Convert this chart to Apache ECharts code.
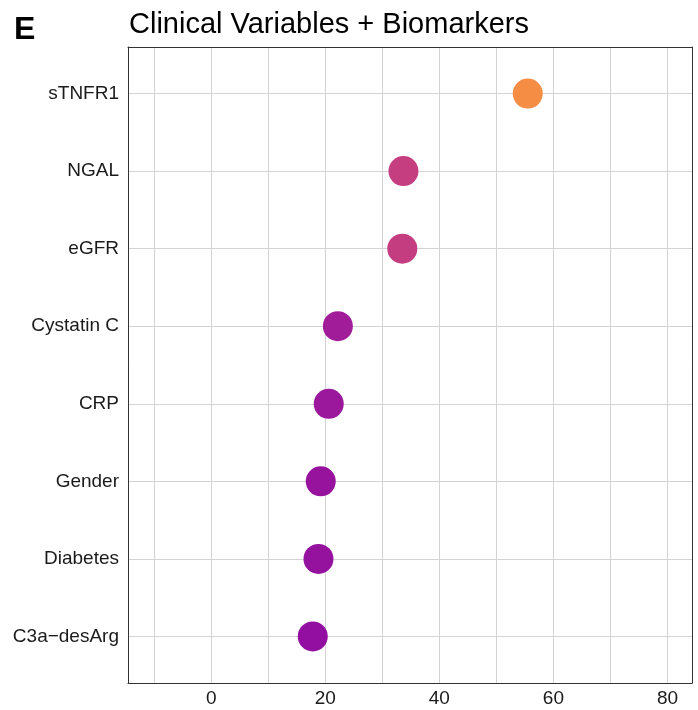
<!DOCTYPE html>
<html>
<head>
<meta charset="utf-8">
<script src="https://cdn.jsdelivr.net/npm/echarts@6/dist/echarts.min.js"></script>
<style>html,body{margin:0;padding:0;background:#fff;}#chart{width:698px;height:710px;}</style>
</head>
<body>
<div id="chart"></div>
<script>
const categories = ["sTNFR1", "NGAL", "eGFR", "Cystatin C", "CRP", "Gender", "Diabetes", "C3a\u2212desArg"];
const values = [55.5, 33.7, 33.5, 22.2, 20.6, 19.2, 18.8, 17.8];
const xTickLabels = [0, 20, 40, 60, 80];
const panelLabel = "E";
const titleText = "Clinical Variables + Biomarkers";

const FONT = "'Liberation Sans', Arial, Helvetica, sans-serif";
const X_MIN = -14.6, X_MAX = 84.3, Y_MIN = 0.4, Y_MAX = 8.6;
const frame = {show: true, onZero: false, lineStyle: {color: '#333', width: 1}};
const chart = echarts.init(document.getElementById('chart'), null, {renderer: 'canvas'});
chart.setOption({
  backgroundColor: '#fff',
  animation: false,
  title: [
    {text: panelLabel, left: 9, top: 9, textStyle: {fontFamily: FONT, fontSize: 32, fontWeight: 'bold', color: '#000'}},
    {text: titleText, left: 124, top: 5, textStyle: {fontFamily: FONT, fontSize: 29, fontWeight: 'normal', color: '#000'}}
  ],
  grid: {left: 128, right: 6, top: 47, bottom: 27, show: false},
  xAxis: [{
    type: 'value', min: X_MIN, max: X_MAX, minInterval: 10, maxInterval: 10,
    axisLine: frame, axisTick: {show: false},
    splitLine: {show: true, lineStyle: {color: '#d3d3d3', width: 1}},
    axisLabel: {
      showMinLabel: false, showMaxLabel: false, margin: 6,
      fontFamily: FONT, fontSize: 19, color: '#1a1a1a',
      formatter: v => xTickLabels.includes(v) ? String(v) : ''
    }
  }, {
    type: 'value', position: 'top', min: X_MIN, max: X_MAX,
    axisLine: frame, axisTick: {show: false}, axisLabel: {show: false}, splitLine: {show: false}
  }],
  yAxis: [{
    type: 'value', inverse: true, min: Y_MIN, max: Y_MAX, minInterval: 1, maxInterval: 1,
    axisLine: frame, axisTick: {show: false},
    splitLine: {show: true, lineStyle: {color: '#d3d3d3', width: 1}},
    axisLabel: {
      showMinLabel: false, showMaxLabel: false, margin: 9,
      fontFamily: FONT, fontSize: 19, color: '#1a1a1a',
      formatter: v => (Number.isInteger(v) && v >= 1 && v <= categories.length) ? categories[v - 1] : ''
    }
  }, {
    type: 'value', position: 'right', inverse: true, min: Y_MIN, max: Y_MAX,
    axisLine: frame, axisTick: {show: false}, axisLabel: {show: false}, splitLine: {show: false}
  }],
  visualMap: {
    show: false, type: 'continuous', dimension: 0, min: 17.8, max: 55.5, seriesIndex: 0,
    inRange: {color: ['#920FA1', '#B12A90', '#CC4778', '#E4695E', '#F68D45']}
  },
  series: [{
    type: 'scatter',
    xAxisIndex: 0, yAxisIndex: 0,
    symbolSize: 30,
    data: values.map((v, i) => [v, i + 1]),
    itemStyle: {opacity: 1}
  }]
});
</script>
</body>
</html>
